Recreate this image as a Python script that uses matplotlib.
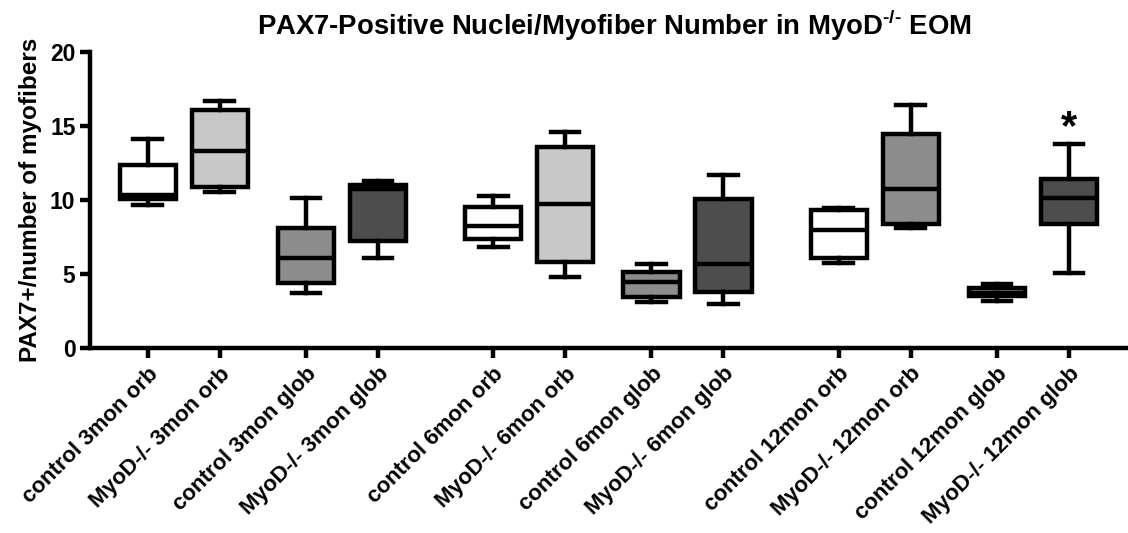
import numpy as np
import matplotlib
matplotlib.use("Agg")
import matplotlib.pyplot as plt

plt.rcParams['font.family'] = ['Liberation Sans', 'DejaVu Sans']
plt.rcParams['font.weight'] = 'bold'
plt.rcParams['mathtext.fontset'] = 'custom'
plt.rcParams['mathtext.rm'] = 'Liberation Sans:bold'
plt.rcParams['mathtext.bf'] = 'Liberation Sans:bold'

# 数据：箱线图五数概括
labels = ["control 3mon orb", "MyoD-/- 3mon orb", "control 3mon glob", "MyoD-/- 3mon glob",
          "control 6mon orb", "MyoD-/- 6mon orb", "control 6mon glob", "MyoD-/- 6mon glob",
          "control 12mon orb", "MyoD-/- 12mon orb", "control 12mon glob", "MyoD-/- 12mon glob"]
whislo = [9.65, 10.55, 3.75, 6.06, 6.85, 4.77, 3.11, 2.97, 5.72, 8.13, 3.2, 5.09]
q1 = [10.05, 10.9, 4.37, 7.25, 7.36, 5.83, 3.42, 3.76, 6.06, 8.42, 3.5, 8.42]
med = [10.35, 13.3, 6.06, 10.75, 8.27, 9.73, 4.44, 5.68, 7.97, 10.72, 3.75, 10.16]
q3 = [12.35, 16.1, 8.13, 11.0, 9.55, 13.6, 5.11, 10.07, 9.32, 14.5, 4.05, 11.4]
whishi = [14.1, 16.7, 10.16, 11.3, 10.27, 14.62, 5.65, 11.67, 9.5, 16.42, 4.3, 13.78]
colors = ["white", "#c8c8c8", "#8c8c8c", "#4d4d4d",
          "white", "#c8c8c8", "#8c8c8c", "#4d4d4d",
          "white", "#8c8c8c", "#8c8c8c", "#4d4d4d"]
star_idx = 11
star_y = 14.9

# 分组位置：组内间距不等，组间留空
positions = []
for g in range(3):
    base = g * 4.8
    positions += [base, base + 1, base + 2.2, base + 3.2]

stats = []
for i in range(len(labels)):
    stats.append(dict(whislo=whislo[i], q1=q1[i], med=med[i], q3=q3[i],
                      whishi=whishi[i], fliers=[]))

fig = plt.figure(figsize=(11.28, 5.33), dpi=100)
ax = fig.add_axes([0.0798, 0.347, 0.9202, 0.555])

lw = 3.2
bp = ax.bxp(stats, positions=positions, widths=0.78, capwidths=0.4,
            patch_artist=True, showfliers=False,
            boxprops=dict(linewidth=lw, edgecolor='black'),
            medianprops=dict(color='black', linewidth=lw),
            whiskerprops=dict(color='black', linewidth=lw),
            capprops=dict(color='black', linewidth=lw))
for patch, c in zip(bp['boxes'], colors):
    patch.set_facecolor(c)

ax.text(positions[star_idx], star_y, "*", ha='center', va='center',
        fontsize=30, fontweight='bold')

ax.set_xlim(-0.8, 13.62)
ax.set_ylim(0, 20)
ax.set_yticks([0, 5, 10, 15, 20])
ax.set_xticks(positions)
ax.set_xticklabels(labels, rotation=45, ha='right', rotation_mode='anchor')

for s in ['top', 'right']:
    ax.spines[s].set_visible(False)
for s in ['left', 'bottom']:
    ax.spines[s].set_linewidth(lw)
ax.tick_params(axis='both', width=lw, length=7)
ax.tick_params(axis='x', pad=4, labelsize=16)
ax.tick_params(axis='y', labelsize=16.5)

ax.set_ylabel("PAX7+/number of myofibers", fontsize=17.5, fontweight='bold', labelpad=6)
fig.suptitle(r"PAX7-Positive Nuclei/Myofiber Number in MyoD$^{\text{-/-}}$ EOM",
             x=0.545, y=0.985, fontsize=19.8, fontweight='bold')

fig.savefig("out.png", dpi=100)
